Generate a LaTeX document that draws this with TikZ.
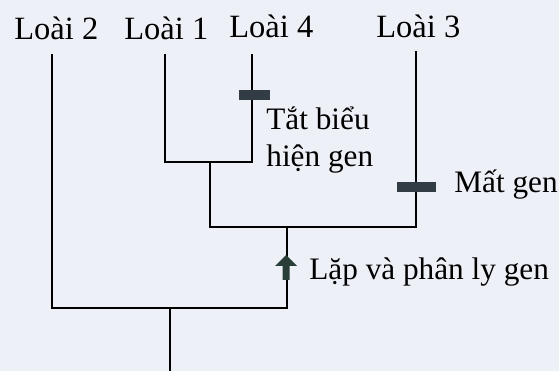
\documentclass[tikz,border=0pt]{standalone}
\usepackage{fontspec}
\setmainfont{Liberation Serif}
\definecolor{paper}{RGB}{238,240,248}
\definecolor{barcol}{RGB}{50,60,68}
\definecolor{arrcol}{RGB}{40,62,54}
\begin{document}
\begin{tikzpicture}[x=.4pt,y=-.4pt,line width=1.1pt,font=\fontsize{12.5}{15}\selectfont,lbl/.style={anchor=base west,inner sep=0pt}]
\fill[paper](0,0)rectangle(559,371);\useasboundingbox(0,0)rectangle(559,371);
\node[lbl,font=\fontsize{13}{15}\selectfont](s2)at(13,40){Loài 2};\node[lbl,font=\fontsize{13}{15}\selectfont](s1)at(123,40){Loài 1};\node[lbl,font=\fontsize{13}{15}\selectfont](s4)at(228,38){Loài 4};\node[lbl,font=\fontsize{13}{15}\selectfont](s3)at(375,38){Loài 3};
\coordinate(t2)at(52,54);\coordinate(t1)at(165,54);\coordinate(t4)at(252,54);\coordinate(t3)at(416,51);
\coordinate(n14)at(210,162);\coordinate(n143)at(287,227);\coordinate(r)at(170,308);\coordinate(b)at(170,371);
\draw(t1)|-(n14)-|(t4);\draw(n14)|-(n143)-|(t3);\draw(t2)|-(r)-|(n143);\draw(r)--(b);
\fill[barcol](239,90)rectangle(270,100);\fill[barcol](397,182)rectangle(436,192);
\fill[arrcol](286,255)--(297,266)--(289.5,266)--(289.5,280)--(282.5,280)--(282.5,266)--(275,266)--cycle;
\node[lbl](tb1)at(265,130){Tắt biểu};\node[lbl](tb2)at(265,167){hiện gen};
\node[lbl](mg)at(453,193){Mất gen};\node[lbl](lp)at(308,280){Lặp và phân ly gen};
\end{tikzpicture}
\end{document}
